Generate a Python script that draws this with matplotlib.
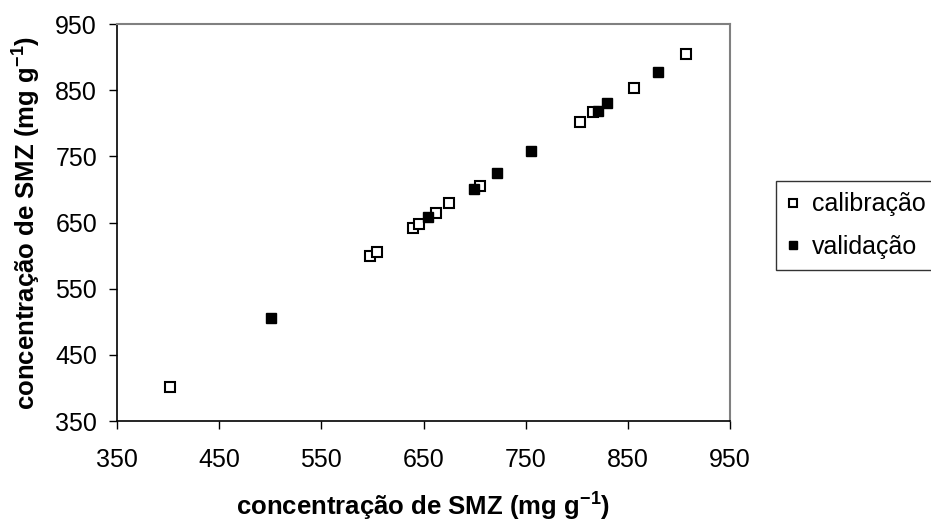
import matplotlib
matplotlib.use("Agg")
import matplotlib.pyplot as plt

plt.rcParams['font.family'] = ['Liberation Sans', 'DejaVu Sans']
plt.rcParams['mathtext.fontset'] = 'custom'
plt.rcParams['mathtext.rm'] = 'Liberation Sans'
plt.rcParams['mathtext.bf'] = 'Liberation Sans:bold'

# calibracao (open squares)
calX = [402, 598, 604, 640, 646, 662, 675, 705, 803, 816, 856, 907]
calY = [402, 600, 606, 642, 648, 665, 680, 705, 802, 817, 854, 905]
# validacao (filled squares)
valX = [501, 654, 699, 722, 755, 821, 830, 880]
valY = [505, 659, 701, 725, 758, 819, 831, 878]

ticks = [350, 450, 550, 650, 750, 850, 950]

fig = plt.figure(figsize=(9.31, 5.21), dpi=100)
ax = fig.add_axes([0.1257, 0.1919, 0.6584, 0.762])

ax.plot(calX, calY, linestyle='none', marker='s', markersize=7,
        markerfacecolor='white', markeredgecolor='black', markeredgewidth=1.5,
        label='calibração', zorder=3)
ax.plot(valX, valY, linestyle='none', marker='s', markersize=7,
        markerfacecolor='black', markeredgecolor='black', markeredgewidth=1.0,
        label='validação', zorder=4)

ax.set_xlim(350, 950)
ax.set_ylim(350, 950)
ax.set_xticks(ticks)
ax.set_yticks(ticks)
ax.tick_params(labelsize=18, direction='out', length=5.8, width=1)
ax.tick_params(axis='y', pad=8.6)
ax.tick_params(axis='x', pad=13.7)

for side in ['left', 'bottom']:
    ax.spines[side].set_color('black')
    ax.spines[side].set_linewidth(1.2)
for side in ['right', 'top']:
    ax.spines[side].set_color('#808080')
    ax.spines[side].set_linewidth(1.5)

ax.set_xlabel(r'concentração de SMZ (mg g$^{\mathbf{-1}}$)', fontsize=18.5,
              fontweight='bold')
ax.set_ylabel(r'concentração de SMZ (mg g$^{\mathbf{-1}}$)', fontsize=18.5,
              fontweight='bold')
ax.xaxis.set_label_coords(0.5, -0.172)
ax.yaxis.set_label_coords(-0.122, 0.5)

leg = ax.legend(loc='upper left', bbox_to_anchor=(1.075, 0.6045), fontsize=18,
                frameon=True, fancybox=False, handlelength=0.5,
                handletextpad=0.5, borderpad=0.45, labelspacing=0.75,
                borderaxespad=0.0, markerscale=0.8)
leg.get_frame().set_edgecolor('black')
leg.get_frame().set_linewidth(1.0)

fig.savefig('out.png', dpi=100)
